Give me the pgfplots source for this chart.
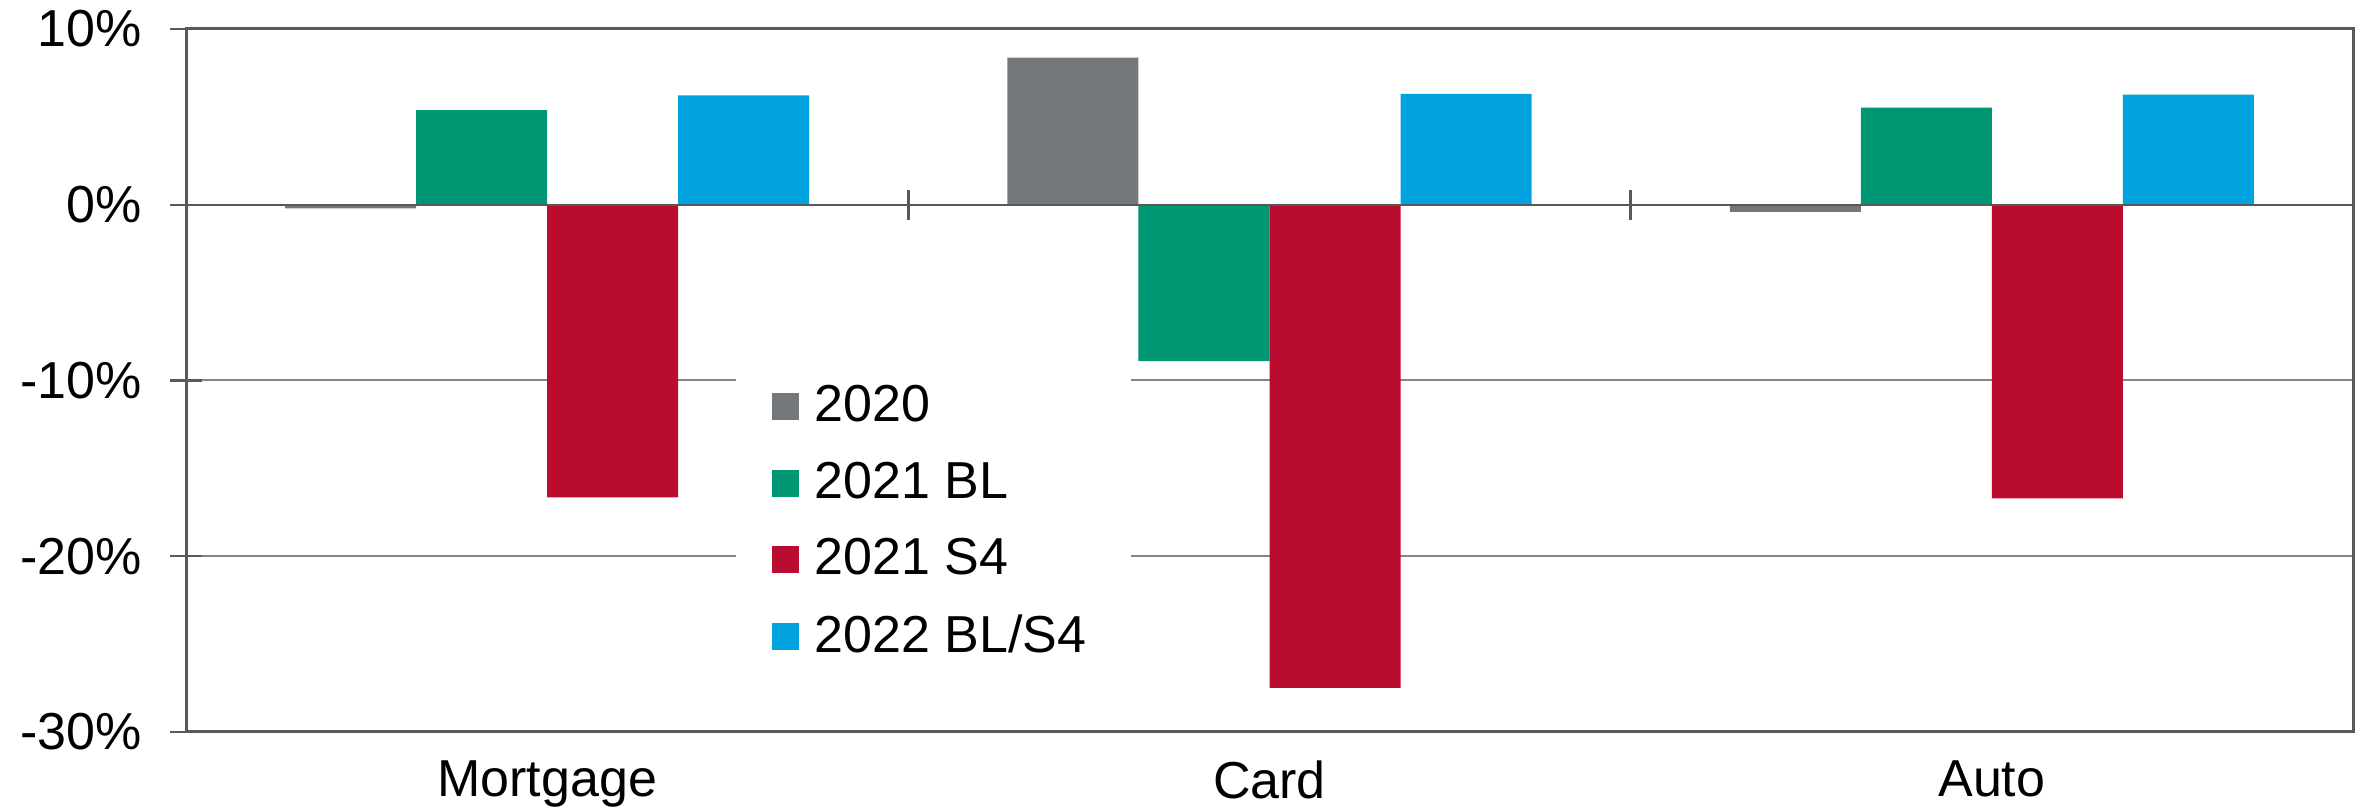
\documentclass[border=0pt]{standalone}
\usepackage{fontspec}
\setmainfont{Liberation Sans}
\usepackage{pgfplots}
\pgfplotsset{compat=1.18}

\definecolor{c2020}{HTML}{75787B}
\definecolor{cbl}{HTML}{009775}
\definecolor{cs}{HTML}{BA0C2F}
\definecolor{cbls}{HTML}{00A3E0}
\definecolor{framec}{HTML}{595959}
\definecolor{gridc}{HTML}{858585}

\begin{document}
\begin{tikzpicture}
\useasboundingbox (-46.5pt,-19.25pt) rectangle (543.75pt,183pt);
\begin{axis}[
  at={(0,0)}, anchor=south west,
  scale only axis, width=541.75pt, height=175.75pt,
  xmin=-0.5, xmax=2.5, ymin=-30, ymax=10,
  ybar, bar width=0.1814,
  xtick={0,1,2}, xticklabels={Mortgage,Card,Auto},
  xtick style={draw=none},
  ytick={-30,-20,-10,0,10},
  yticklabels={-30\%,-20\%,-10\%,0\%,10\%},
  ytick pos=left,
  ytick style={framec, line width=0.6pt},
  major tick length=8pt, tick align=center,
  ymajorgrids, grid style={gridc, line width=0.5pt},
  axis line style={framec, line width=0.75pt},
  tick label style={font=\fontsize{13}{15}\selectfont, text=black},
  yticklabel style={xshift=-3.5pt},
  xticklabel style={yshift=0.3pt},
  legend style={at={(rel axis cs:0.2535,0.528)}, anchor=north west,
    draw=none, fill=white, font=\fontsize{13}{15}\selectfont,
    row sep=4.5pt, inner xsep=9pt, inner ysep=4pt,
    /tikz/every odd column/.append style={column sep=1.9pt}},
  legend cell align=left,
  legend image code/.code={\fill[#1] (0pt,-3.375pt) rectangle (6.75pt,3.375pt);},
]
\addplot[fill=c2020, draw=none, bar shift=-0.2721] coordinates {(0,-0.2) (1,8.37) (2,-0.41)};
\addplot[fill=cbl, draw=none, bar shift=-0.0907] coordinates {(0,5.39) (1,-8.90) (2,5.52)};
\addplot[fill=cs, draw=none, bar shift=0.0907] coordinates {(0,-16.65) (1,-27.49) (2,-16.71)};
\addplot[fill=cbls, draw=none, bar shift=0.2721] coordinates {(0,6.23) (1,6.31) (2,6.26)};
\legend{2020,2021 BL,2021 S4,2022 BL/S4}
% zero line with category separators
\draw[framec, line width=0.6pt] (axis cs:-0.5,0) -- (axis cs:2.5,0);
\draw[framec, line width=0.6pt] ([yshift=-3.75pt]axis cs:0.5,0) -- ([yshift=3.75pt]axis cs:0.5,0);
\draw[framec, line width=0.6pt] ([yshift=-3.75pt]axis cs:1.5,0) -- ([yshift=3.75pt]axis cs:1.5,0);
\end{axis}
\end{tikzpicture}
\end{document}
